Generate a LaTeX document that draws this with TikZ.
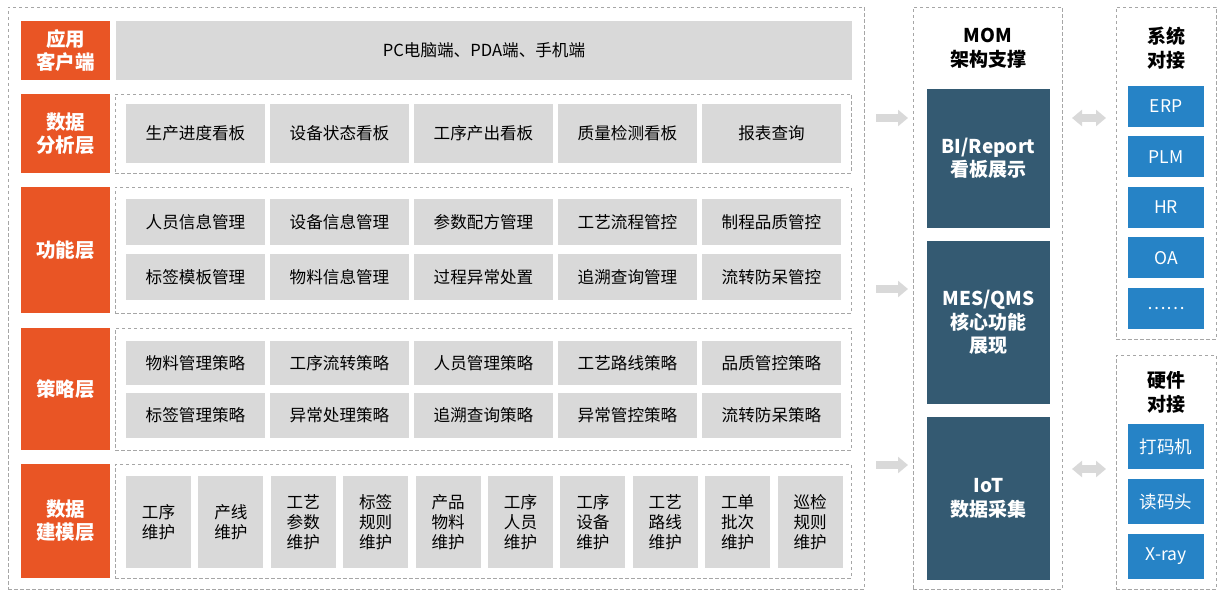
\documentclass[tikz,border=0pt]{standalone}
\usepackage{fontspec}
\setmainfont{Noto Sans CJK SC}
\usetikzlibrary{arrows.meta}
\definecolor{org}{HTML}{E95525}
\definecolor{cellg}{HTML}{D9D9D9}
\definecolor{darkb}{HTML}{345A72}
\definecolor{blueb}{HTML}{2683C6}
\definecolor{dashc}{HTML}{A6A6A6}
\definecolor{arrg}{HTML}{D9D9D9}
\begin{document}
\begin{tikzpicture}[x=1pt,y=-1pt,
  box/.style={inner sep=0pt, outer sep=0pt, align=center},
  dbox/.style={box, draw=dashc, line width=0.9pt, dash pattern=on 3.5pt off 2.5pt},
  lab/.style={box, fill=org, text=white, font=\fontsize{19.5}{23}\selectfont\bfseries, minimum width=89},
  cell/.style={box, fill=cellg, font=\fontsize{16.6}{20}\selectfont},
  darkbox/.style={box, fill=darkb, text=white, font=\fontsize{19}{23.5}\selectfont\bfseries, minimum width=123},
  bluebox/.style={box, fill=blueb, text=white, font=\fontsize{17.5}{20}\selectfont, minimum width=76},
  ttl/.style={box, font=\fontsize{19}{24}\selectfont\bfseries},
  barrow/.style={draw=arrg, line width=8pt, -{Triangle[length=10pt,width=16pt]}},
  dbarrow/.style={draw=arrg, line width=8pt, {Triangle[length=10pt,width=16pt]}-{Triangle[length=10pt,width=16pt]}}
]
\useasboundingbox (0,0) rectangle (1225,604);

% outer containers
\node[dbox, minimum width=856, minimum height=582] (outer) at (436,298) {};
\node[dbox, minimum width=149, minimum height=582] (mom) at (987.5,298) {};
\node[dbox, minimum width=100, minimum height=332] (sys) at (1166,173) {};
\node[dbox, minimum width=100, minimum height=234] (hw) at (1166,472) {};

% layer labels
\node[lab, minimum height=59] (l1) at (65.5,50.5) {应用\\客户端};
\node[lab, minimum height=79] (l2) at (65.5,133.5) {数据\\分析层};
\node[lab, minimum height=126] (l3) at (65.5,250) {功能层};
\node[lab, minimum height=122] (l4) at (65.5,389) {策略层};
\node[lab, minimum height=114] (l5) at (65.5,521) {数据\\建模层};

% client bar
\node[cell, minimum width=736, minimum height=59] (pc) at (484,50.5) {PC电脑端、PDA端、手机端};

% inner dashed groups
\node[dbox, minimum width=736, minimum height=79] (g2) at (483,133.5) {};
\node[dbox, minimum width=736, minimum height=126] (g3) at (483,250) {};
\node[dbox, minimum width=736, minimum height=122] (g4) at (483,389) {};
\node[dbox, minimum width=736, minimum height=114] (g5) at (483,521) {};

% analysis
\foreach \t [count=\i from 0] in {生产进度看板,设备状态看板,工序产出看板,质量检测看板,报表查询}
  \node[cell, minimum width=139, minimum height=59] (a\i) at (195.5+144*\i,133.5) {\t};

% function
\foreach \t [count=\i from 0] in {人员信息管理,设备信息管理,参数配方管理,工艺流程管控,制程品质管控}
  \node[cell, minimum width=139, minimum height=46] (f\i) at (195.5+144*\i,222) {\t};
\foreach \t [count=\i from 0] in {标签模板管理,物料信息管理,过程异常处置,追溯查询管理,流转防呆管控}
  \node[cell, minimum width=139, minimum height=46] (h\i) at (195.5+144*\i,277) {\t};

% strategy
\foreach \t [count=\i from 0] in {物料管理策略,工序流转策略,人员管理策略,工艺路线策略,品质管控策略}
  \node[cell, minimum width=139, minimum height=44] (s\i) at (195.5+144*\i,363) {\t};
\foreach \t [count=\i from 0] in {标签管理策略,异常处理策略,追溯查询策略,异常管控策略,流转防呆策略}
  \node[cell, minimum width=139, minimum height=45] (t\i) at (195.5+144*\i,415.5) {\t};

% modeling
\foreach \t [count=\i from 0] in {工序\\维护,产线\\维护,工艺\\参数\\维护,标签\\规则\\维护,产品\\物料\\维护,工序\\人员\\维护,工序\\设备\\维护,工艺\\路线\\维护,工单\\批次\\维护,巡检\\规则\\维护}
  \node[cell, minimum width=65, minimum height=92] (m\i) at (158.5+72.4*\i,522) {\t};

% MOM column
\node[ttl] (momt) at (988,48) {MOM\\架构支撑};
\node[darkbox, minimum height=139] (bi) at (988.5,158.5) {BI/Report\\看板展示};
\node[darkbox, minimum height=163] (mes) at (988.5,322.5) {MES/QMS\\核心功能\\展现};
\node[darkbox, minimum height=163] (iot) at (988.5,498.5) {IoT\\数据采集};

% system integration
\node[ttl] (syst) at (1166,48) {系统\\对接};
\foreach \t [count=\i from 0] in {ERP,PLM,HR,OA,……}
  \node[bluebox, minimum height=41] (b\i) at (1166,106.5+50.4*\i) {\t};

% hardware integration
\node[ttl] (hwt) at (1166,392) {硬件\\对接};
\foreach \t [count=\i from 0] in {打码机,读码头,X-ray}
  \node[bluebox, minimum height=45] (c\i) at (1166,446.5+55*\i) {\t};

% arrows
\coordinate (p1) at (876,118); \coordinate (q1) at (908,118);
\coordinate (p2) at (876,289); \coordinate (q2) at (908,289);
\coordinate (p3) at (876,465); \coordinate (q3) at (908,465);
\draw[barrow] (p1) -- (q1);
\draw[barrow] (p2) -- (q2);
\draw[barrow] (p3) -- (q3);
\coordinate (r1) at (1072,118); \coordinate (u1) at (1106,118);
\coordinate (r2) at (1072,469); \coordinate (u2) at (1106,469);
\draw[dbarrow] (r1) -- (u1);
\draw[dbarrow] (r2) -- (u2);
\end{tikzpicture}
\end{document}
